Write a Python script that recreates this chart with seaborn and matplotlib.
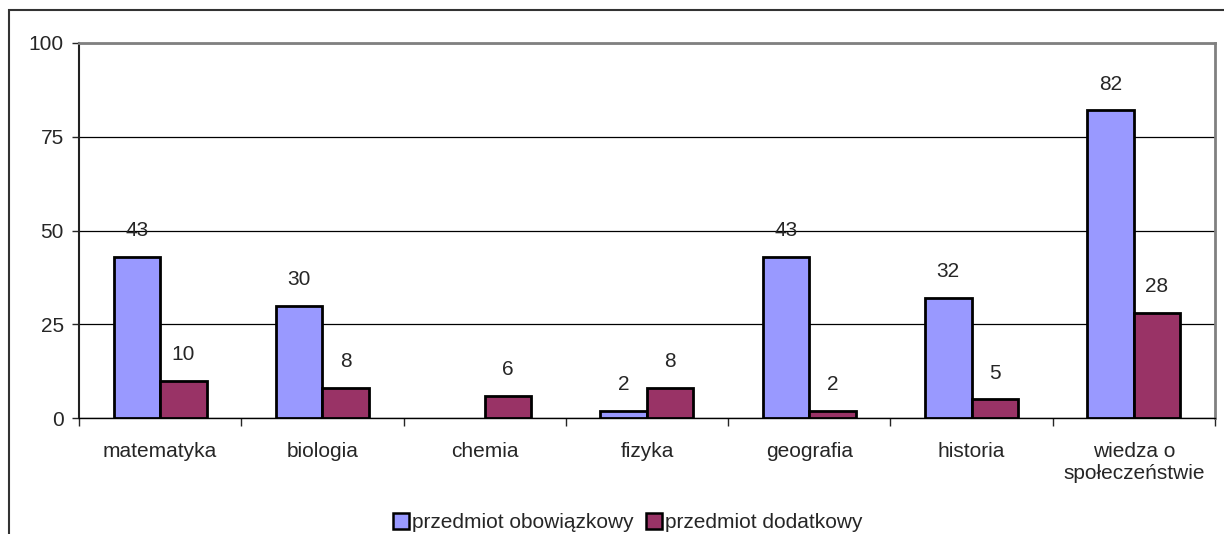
import pandas as pd
import matplotlib.pyplot as plt
import matplotlib.patches as mpatches
import seaborn as sns

# Data
subjects = ['matematyka', 'biologia', 'chemia', 'fizyka', 'geografia', 'historia',
            'wiedza o społeczeństwie']
obowiazkowy = [43, 30, 0, 2, 43, 32, 82]
dodatkowy = [10, 8, 6, 8, 2, 5, 28]
series = ['przedmiot obowiązkowy', 'przedmiot dodatkowy']
colors = ['#9999FF', '#993366']

df = pd.DataFrame({
    'przedmiot': subjects * 2,
    'wartosc': obowiazkowy + dodatkowy,
    'typ': [series[0]] * len(subjects) + [series[1]] * len(subjects),
})

sns.set_style('white')
plt.rcParams['font.family'] = ['Liberation Sans', 'DejaVu Sans']
fs = 15

fig = plt.figure(figsize=(12.24, 5.34), dpi=100)
ax = fig.add_axes([0.0645, 0.2172, 0.9281, 0.7023])

sns.barplot(data=df, x='przedmiot', y='wartosc', hue='typ', palette=colors,
            width=0.573, gap=0, edgecolor='black', linewidth=2,
            saturation=1, ax=ax, legend=False, zorder=3)

# value labels (zeros are not shown, zero bars get no outline)
for cont in ax.containers:
    labels = []
    for b in cont:
        if b.get_height() > 0:
            labels.append(f'{b.get_height():.0f}')
        else:
            labels.append('')
            b.set_linewidth(0)
    ax.bar_label(cont, labels=labels, padding=12, fontsize=fs, zorder=4)

ax.set_ylim(0, 100)
ax.set_xlim(-0.5, len(subjects) - 0.5)
ax.set_yticks([0, 25, 50, 75, 100])
ax.yaxis.grid(True, color='black', linewidth=0.9, zorder=0)
ax.set_axisbelow(True)
ax.tick_params(axis='y', length=5, width=1, pad=6, labelsize=fs, left=True)

ax.set_xticks(range(len(subjects)))
ax.set_xticklabels([s.replace('o ', 'o\n') for s in subjects], fontsize=fs)
ax.tick_params(axis='x', which='major', length=0, pad=17)
ax.set_xticks([i - 0.5 for i in range(len(subjects) + 1)], minor=True)
ax.tick_params(axis='x', which='minor', length=6, width=1, bottom=True)
ax.set_xlabel('')
ax.set_ylabel('')

for side in ['top', 'right']:
    ax.spines[side].set_color('#808080')
    ax.spines[side].set_linewidth(2)
ax.spines['left'].set_color('#222222')
ax.spines['left'].set_linewidth(1.5)
ax.spines['bottom'].set_color('black')
ax.spines['bottom'].set_linewidth(1)

handles = [mpatches.Patch(facecolor=c, edgecolor='black', linewidth=1.8) for c in colors]
fig.legend(handles, series, loc='center', bbox_to_anchor=(0.513, 0.021), ncol=2,
           frameon=False, handlelength=0.75, handleheight=0.75, handletextpad=0.15,
           columnspacing=0.6, fontsize=fs, borderaxespad=0)

# outer chart frame (cut off at right and bottom)
frame = mpatches.Rectangle((9 / 1224, -0.2), 1.2, (1 - 10 / 534) + 0.2,
                           transform=fig.transFigure, fill=False,
                           edgecolor='#333333', linewidth=1.5)
fig.patches.append(frame)

fig.savefig('out.png', dpi=100)
